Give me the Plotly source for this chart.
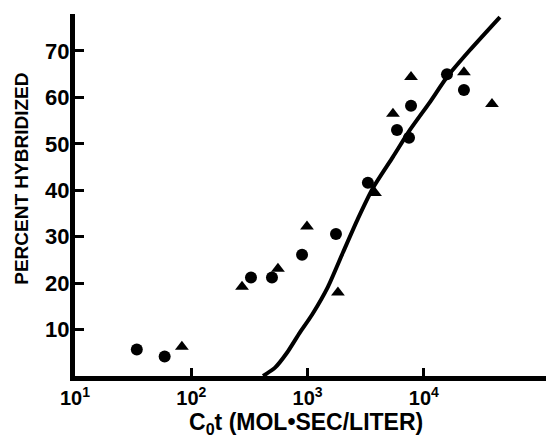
import plotly.graph_objects as go

# Data
circle_cot = [34, 59, 326, 494, 896, 1754, 3300, 5870, 7450, 7750, 15800, 22100]
circle_pct = [5.7, 4.2, 21.2, 21.2, 26.1, 30.6, 41.6, 53.0, 51.3, 58.2, 65.0, 61.6]

triangle_cot = [83, 273, 556, 988, 1823, 3800, 5420, 7750, 22100, 38500]
triangle_pct = [6.3, 19.2, 23.1, 32.2, 18.0, 39.4, 56.5, 64.4, 65.4, 58.6]

curve_cot = [414, 525, 665, 860, 1092, 1496, 2014, 2710, 3648, 5420, 7586, 11272, 15812, 24888, 45082]
curve_pct = [0, 1.8, 5.0, 9.4, 13.2, 19.2, 26.6, 33.9, 40.5, 47.2, 53.0, 59.0, 64.4, 70.2, 77.3]

x_tickvals = [10, 100, 1000, 10000]
x_ticktext = ["10<sup>1</sup>", "10<sup>2</sup>", "10<sup>3</sup>", "10<sup>4</sup>"]
y_tickvals = [10, 20, 30, 40, 50, 60, 70]

FONT = "Liberation Sans, Arial, sans-serif"

fig = go.Figure()
fig.add_trace(go.Scatter(
    x=curve_cot, y=curve_pct, mode="lines",
    line=dict(color="black", width=4, shape="spline", smoothing=0.6),
    hoverinfo="skip", showlegend=False, cliponaxis=True))
fig.add_trace(go.Scatter(
    x=circle_cot, y=circle_pct, mode="markers",
    marker=dict(symbol="circle", size=12, color="black"),
    showlegend=False, cliponaxis=False))
fig.add_trace(go.Scatter(
    x=triangle_cot, y=triangle_pct, mode="markers",
    marker=dict(symbol="triangle-up", size=12, color="black"),
    showlegend=False, cliponaxis=False))

fig.update_layout(
    width=546, height=438,
    margin=dict(l=75, r=0, t=14, b=61.5),
    paper_bgcolor="white", plot_bgcolor="white",
    font=dict(family=FONT, color="black"),
    xaxis=dict(
        type="log", range=[1, 5.05],
        tickvals=x_tickvals, ticktext=x_ticktext,
        tickfont=dict(size=20, family=FONT, color="black", weight="bold"),
        ticks="inside", ticklen=8, tickwidth=3, tickcolor="black",
        showline=True, linewidth=5, linecolor="black",
        showgrid=False, zeroline=False, mirror=False,
    ),
    yaxis=dict(
        range=[0, 77.96],
        tickvals=y_tickvals,
        tickfont=dict(size=22, family=FONT, color="black", weight="bold"),
        ticks="inside", ticklen=9, tickwidth=3, tickcolor="black",
        ticklabelstandoff=-4,
        showline=True, linewidth=5, linecolor="black",
        showgrid=False, zeroline=False, mirror=False,
    ),
    annotations=[
        dict(text="C<sub>0</sub>t (MOL•SEC/LITER)", xref="paper", yref="paper",
             x=0.49, y=-0.131, xanchor="center", yanchor="middle", showarrow=False,
             font=dict(size=23, family=FONT, color="black", weight="bold")),
        dict(text="PERCENT HYBRIDIZED", xref="paper", yref="paper",
             x=-0.1125, y=0.545, xanchor="center", yanchor="middle", showarrow=False,
             textangle=-90,
             font=dict(size=19, family=FONT, color="black", weight="bold")),
    ],
)

fig.write_html("out.html")
